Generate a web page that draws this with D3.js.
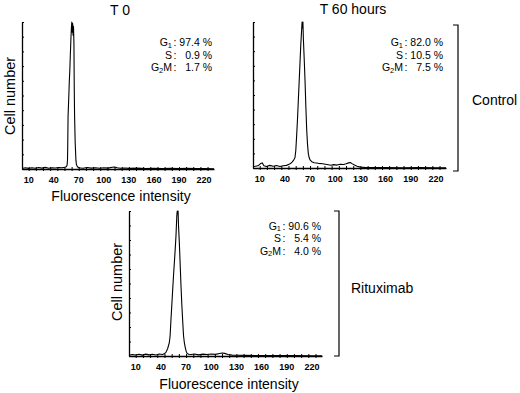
<!DOCTYPE html>
<html><head><meta charset="utf-8">
<script src="https://cdn.jsdelivr.net/npm/d3@7"></script>
<style>
html,body{margin:0;padding:0;background:#fff;}
svg{display:block;font-family:"Liberation Sans",Arial,Helvetica,sans-serif;}
</style></head>
<body>
<svg id="chart" width="520" height="393"></svg>
<script>
// ---- data ----
const xTickLabels = [10, 40, 70, 100, 130, 160, 190, 220];
const phaseNames = ["1", "S", "2"]; // G1, S, G2M
const t0Phases = [97.4, 0.9, 1.7];
const t60Phases = [82.0, 10.5, 7.5];
const rituxPhases = [90.6, 5.4, 4.0];

// [fluorescence channel, relative cell number %]
const t0Hist = [[2,0.3],[6,0.8],[10,0.4],[14,0.9],[18,0.5],[22,1.0],[26,0.6],[30,1.1],[34,0.5],[38,0.9],[42,0.7],[46,1.0],[50,0.8],[53,1.2],[55,1.5],[56,2.5],[56.5,6],[56.8,16],[57.2,36],[57.8,45],[58.7,60],[59.2,66],[59.8,76],[60.7,90],[61.2,96],[61.7,100],[62.2,93],[62.7,99],[63.2,91],[63.7,97],[64.2,86],[64.6,55],[65,36],[65.7,18],[66.6,6],[67.2,3],[68,2],[69,1.2],[70,0.8],[75,0.5],[80,1.0],[85,0.6],[90,0.9],[95,0.5],[100,0.8],[105,0.6],[110,1.2],[113,1.4],[116,0.8],[120,0.5],[125,0.7],[130,0.4],[140,0.6],[150,0.3],[160,0.5],[170,0.3],[180,0.4],[190,0.3],[200,0.4],[210,0.3],[220,0.3],[232,0.2]];
const t60Hist = [[2,1.0],[5,1.2],[8,1.5],[11,3.0],[13,3.5],[15,1.6],[18,1.0],[22,1.8],[26,1.2],[30,1.7],[34,1.0],[38,1.5],[42,1.8],[45,2.5],[47,3.2],[48.5,4],[50,5],[51,6],[52,7],[53,12],[54,22],[55,33],[56,46],[57,59],[58,72],[59,85],[60,95],[60.5,100],[61,96],[61.5,100],[62,89],[63,75],[64,60],[65,42],[66,26],[67,16],[68,9.5],[69,7],[70,5.5],[72,4.3],[75,3.6],[80,3.2],[85,2.9],[90,2.4],[95,1.9],[98,2.3],[102,2.0],[106,2.6],[110,2.4],[113,2.9],[116,3.5],[118,3.8],[120,3.0],[123,2.0],[126,1.2],[130,0.6],[135,0.4],[145,0.3],[160,0.3],[180,0.2],[200,0.3],[220,0.2],[232,0.2]];
const rituxHist = [[2,0.5],[6,1.0],[10,0.7],[14,1.2],[18,0.6],[22,1.3],[26,0.8],[30,1.2],[34,0.7],[38,1.4],[42,1.0],[44,1.5],[46,2.5],[48,5],[50,9],[51,14],[52,25],[53,35],[54,45],[55,55],[56,64],[57,73],[58,83],[58.5,90],[59,97],[59.5,100],[60,98],[60.5,100],[61,90],[62,78],[63,63],[64,48],[65,35],[66,24],[67,14],[68,9],[69,6],[70,3.5],[71,2],[73,1.2],[76,1.0],[80,1.4],[85,0.8],[90,1.3],[95,1.0],[100,1.4],[105,1.1],[110,1.7],[113,2.1],[116,1.8],[120,1.0],[125,0.6],[130,0.5],[140,0.4],[160,0.3],[180,0.3],[200,0.3],[220,0.2],[232,0.2]];

const xDomain = [2, 232];

// ---- layout ----
const panels = [
  {hist: t0Hist, phases: t0Phases, x0: 22, x1: 214, yTop: 22, yBot: 169,
   title: "T 0", titleX: 120, titleY: 15,
   statEnd: 212, statBase: 46,
   yLabel: true, yLabelX: 15, yLabelY: 96,
   xLabel: true, xLabelX: 121, xLabelY: 200.5, tickY: 183},
  {hist: t60Hist, phases: t60Phases, x0: 253, x1: 446, yTop: 22, yBot: 168,
   title: "T 60 hours", titleX: 353, titleY: 14,
   statEnd: 443, statBase: 46,
   yLabel: false, xLabel: false, tickY: 182,
   bracket: {x: 458, y0: 25, y1: 171, label: "Control", lx: 472, ly: 105}},
  {hist: rituxHist, phases: rituxPhases, x0: 129, x1: 322, yTop: 211, yBot: 356,
   statEnd: 321, statBase: 229.5,
   yLabel: true, yLabelX: 122, yLabelY: 282,
   xLabel: true, xLabelX: 229, xLabelY: 389, tickY: 369.5,
   bracket: {x: 339, y0: 211, y1: 356, label: "Rituximab", lx: 351, ly: 293}}
];

const svg = d3.select("#chart");

panels.forEach(p => {
  const g = svg.append("g");
  const x = d3.scaleLinear().domain(xDomain).range([p.x0, p.x1]);
  const y = d3.scaleLinear().domain([0, 100]).range([p.yBot, p.yTop]);

  // x axis line + cross ticks
  const xTicks = d3.range(10, 231, 60 / 7);
  const xAxis = d3.axisBottom(x).tickValues(xTicks).tickSize(2).tickSizeOuter(0).tickFormat("");
  const xa = g.append("g").attr("transform", `translate(0,${p.yBot})`).call(xAxis);
  xa.select(".domain").attr("stroke", "#000").attr("stroke-width", 1.3);
  xa.selectAll(".tick line").attr("y1", -2).attr("y2", 2).attr("stroke", "#000").attr("stroke-width", 1);

  // tick labels
  g.selectAll(".xl").data(xTickLabels).enter().append("text")
    .attr("x", d => x(d)).attr("y", p.tickY)
    .attr("text-anchor", "middle").attr("font-size", 9).attr("font-weight", "bold")
    .text(d => d);

  // y axis with inner ticks
  const yAxis = d3.axisRight(y).tickValues(d3.range(0, 101, 10)).tickSize(2).tickSizeOuter(0).tickFormat("");
  const ya = g.append("g").attr("transform", `translate(${p.x0},0)`).call(yAxis);
  ya.select(".domain").attr("stroke", "#000").attr("stroke-width", 1.3);
  ya.selectAll(".tick line").attr("stroke", "#000").attr("stroke-width", 1);

  // histogram
  const line = d3.line().x(d => x(d[0])).y(d => y(d[1]));
  g.append("path").datum(p.hist).attr("d", line)
    .attr("fill", "none").attr("stroke", "#000").attr("stroke-width", 1.1).attr("stroke-linejoin", "round");

  if (p.title) {
    g.append("text").attr("x", p.titleX).attr("y", p.titleY).attr("text-anchor", "middle")
      .attr("font-size", 14).text(p.title);
  }
  if (p.yLabel) {
    g.append("text").attr("transform", `translate(${p.yLabelX},${p.yLabelY}) rotate(-90)`)
      .attr("text-anchor", "middle").attr("font-size", 14.5).text("Cell number");
  }
  if (p.xLabel) {
    g.append("text").attr("x", p.xLabelX).attr("y", p.xLabelY).attr("text-anchor", "middle")
      .attr("font-size", 14).text("Fluorescence intensity");
  }

  // phase stats
  const colonX = p.statEnd - 37;
  p.phases.forEach((v, i) => {
    const by = p.statBase + i * 12.5;
    const lab = g.append("text").attr("x", colonX - 3).attr("y", by).attr("text-anchor", "end").attr("font-size", 10.5);
    if (i === 1) {
      lab.text("S");
    } else {
      lab.append("tspan").text("G");
      lab.append("tspan").attr("font-size", 7.5).attr("dy", 1.5).text(phaseNames[i]);
      if (i === 2) lab.append("tspan").attr("dy", -1.5).text("M");
    }
    g.append("text").attr("x", colonX).attr("y", by).attr("text-anchor", "middle").attr("font-size", 10.5).text(":");
    g.append("text").attr("x", p.statEnd).attr("y", by).attr("text-anchor", "end").attr("font-size", 10.5)
      .text(v.toFixed(1) + " %");
  });

  if (p.bracket) {
    const b = p.bracket;
    g.append("path").attr("d", `M${b.x - 5},${b.y0}H${b.x}V${b.y1}H${b.x - 5}`)
      .attr("fill", "none").attr("stroke", "#000").attr("stroke-width", 1.2);
    g.append("text").attr("x", b.lx).attr("y", b.ly).attr("font-size", 14).text(b.label);
  }
});
</script>
</body></html>
